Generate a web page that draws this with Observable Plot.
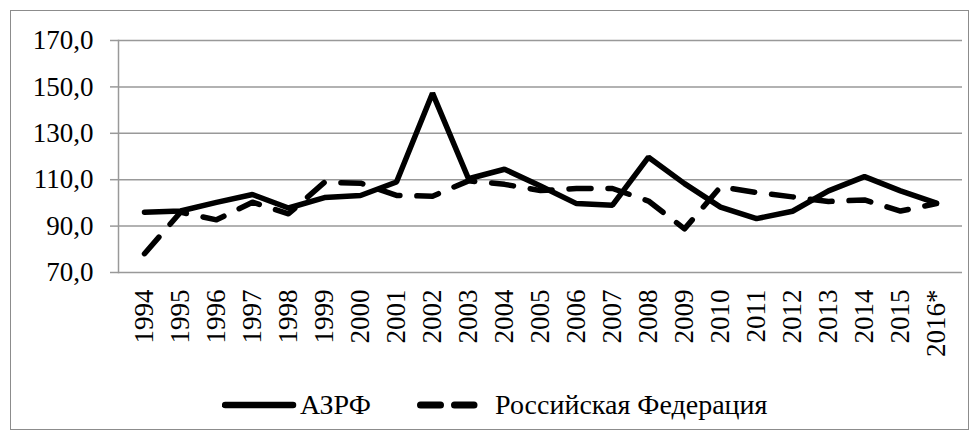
<!DOCTYPE html>
<html>
<head>
<meta charset="utf-8">
<script src="https://cdn.jsdelivr.net/npm/d3@7"></script>
<script src="https://cdn.jsdelivr.net/npm/@observablehq/plot@0.6"></script>
<style>
  html, body { margin: 0; padding: 0; background: #fff; }
  #wrap { position: relative; width: 979px; height: 439px; font-family: "Liberation Serif", Tinos, "Times New Roman", "DejaVu Serif", serif; }
  #border { position: absolute; left: 10px; top: 10px; width: 957px; height: 418px; border: 1.5px solid #8c8c8c; box-sizing: content-box; pointer-events: none; }
  #chart svg { display: block; }
  #chart svg text { font-family: "Liberation Serif", Tinos, "Times New Roman", "DejaVu Serif", serif; }
  #legend { position: absolute; left: 0; top: 385px; width: 979px; height: 40px; font-size: 28px; color: #000; }
  .item { position: absolute; top: 0; height: 40px; display: flex; align-items: center; white-space: nowrap; }
  .item svg { display: block; }
</style>
</head>
<body>
<div id="wrap">
  <div id="chart"></div>
  <div id="legend"></div>
  <div id="border"></div>
</div>
<script>
const years = ["1994","1995","1996","1997","1998","1999","2000","2001","2002","2003","2004","2005","2006","2007","2008","2009","2010","2011","2012","2013","2014","2015","2016*"];
const azrf = [96.0, 96.5, 100.2, 103.6, 97.8, 102.3, 103.2, 109.0, 147.3, 110.4, 114.5, 107.3, 99.7, 99.0, 119.7, 108.3, 98.2, 93.2, 96.4, 105.2, 111.3, 105.2, 99.9];
const rf = [78.1, 96.0, 92.7, 100.3, 95.3, 108.9, 108.5, 103.2, 102.9, 109.5, 108.0, 105.3, 106.2, 106.2, 100.8, 88.8, 106.9, 104.5, 102.6, 100.6, 101.3, 96.5, 99.7];
const seriesNames = ["АЗРФ", "Российская Федерация"];
const yTicks = [70, 90, 110, 130, 150, 170];

const rows = [];
years.forEach((y, i) => {
  rows.push({year: y, value: azrf[i], series: seriesNames[0]});
  rows.push({year: y, value: rf[i], series: seriesNames[1]});
});

const fmt = d => d.toFixed(1).replace(".", ",");
const font = "'Liberation Serif', Tinos, 'Times New Roman', 'DejaVu Serif', serif";

const plot = Plot.plot({
  width: 979,
  height: 384,
  marginTop: 40,
  marginBottom: 112,
  marginLeft: 118,
  marginRight: 17,
  style: {fontFamily: font, fontSize: "27px", color: "#000", background: "transparent"},
  x: {type: "point", domain: years, padding: 0.5, label: null},
  y: {domain: [70, 170], label: null},
  marks: [
    Plot.gridY(yTicks, {stroke: "#999", strokeOpacity: 1, strokeWidth: 1.5}),
    Plot.axisY(yTicks, {tickSize: 8, tickPadding: 17, tickFormat: fmt, stroke: "#999", strokeWidth: 1.5, fontSize: 27, label: null}),
    Plot.axisX({tickSize: 0, tickPadding: 17, tickRotate: -90, fontSize: 27, label: null}),
    Plot.frame({anchor: "left", stroke: "#999", strokeWidth: 1.5}),
    Plot.line(rows.filter(d => d.series === seriesNames[0]), {x: "year", y: "value", stroke: "#000", strokeWidth: 5.5, strokeLinejoin: "miter", strokeLinecap: "round"}),
    Plot.line(rows.filter(d => d.series === seriesNames[1]), {x: "year", y: "value", stroke: "#000", strokeWidth: 5.5, strokeLinejoin: "round", strokeLinecap: "round", strokeDasharray: "22,17"})
  ]
});
document.getElementById("chart").appendChild(plot);

const legend = document.getElementById("legend");
const legendLeft = [222, 417];
seriesNames.forEach((name, i) => {
  const item = document.createElement("div");
  item.className = "item";
  item.style.left = legendLeft[i] + "px";
  const sw = i === 0
    ? `<svg width="78" height="12"><line x1="3" y1="6" x2="71" y2="6" stroke="#000" stroke-width="6.5" stroke-linecap="round"></line></svg>`
    : `<svg width="78" height="12"><line x1="3.5" y1="6" x2="57" y2="6" stroke="#000" stroke-width="7" stroke-linecap="round" stroke-dasharray="20,14"></line></svg>`;
  item.innerHTML = sw + `<span>${name}</span>`;
  legend.appendChild(item);
});
</script>
</body>
</html>
